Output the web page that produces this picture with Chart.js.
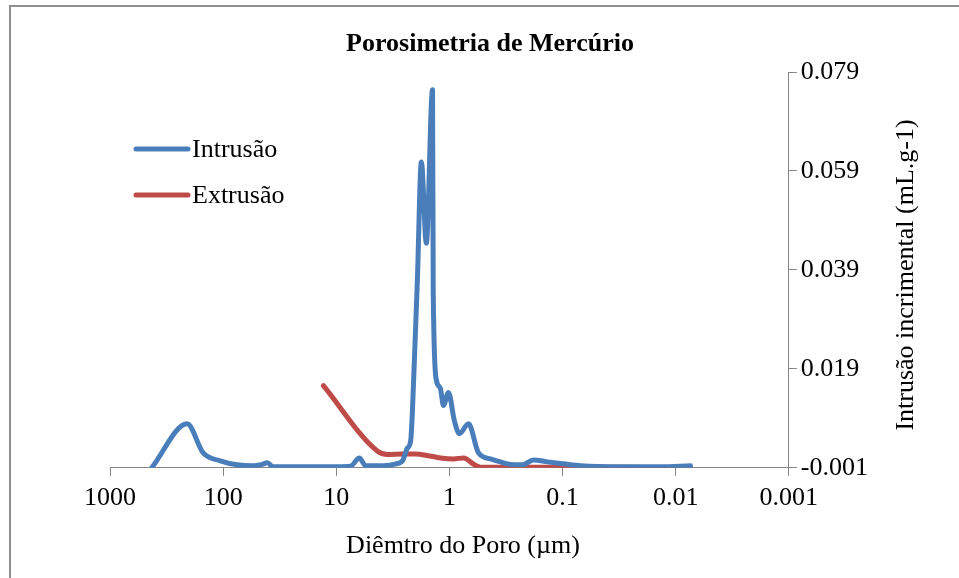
<!DOCTYPE html>
<html>
<head>
<meta charset="utf-8">
<script src="https://cdn.jsdelivr.net/npm/chart.js@4"></script>
<style>
  body { margin: 0; background: #fff; overflow: hidden; }
  #wrap { position: relative; width: 959px; height: 578px; }
  #frame { position: absolute; left: 9px; top: 5px; width: 2000px; height: 2000px; border: 2px solid #8e8e8e; }
  canvas { position: absolute; left: 0; top: 0; }
</style>
</head>
<body>
<div id="wrap">
  <div id="frame"></div>
  <canvas id="chart" width="959" height="578"></canvas>
</div>
<script>
  const titulo = 'Porosimetria de Mercúrio';
  const tituloX = 'Diêmtro do Poro (µm)';
  const tituloY = 'Intrusão incrimental (mL.g-1)';

  const xTicks = [1000, 100, 10, 1, 0.1, 0.01, 0.001];

  // diâmetro (µm) e intrusão
  const poroIntr = [425, 208, 150, 106, 75, 55, 45, 40.8, 36, 20,
    10, 7.5, 6.25, 5.5, 4, 3.13, 2.6, 2.35, 2.2, 2.04,
    1.92, 1.77, 1.6, 1.41, 1.39, 1.30, 1.20, 1.13, 1.02, 0.904,
    0.816, 0.679, 0.553, 0.434, 0.354, 0.307, 0.226, 0.181, 0.136, 0.098,
    0.069, 0.03, 0.0136, 0.0074];
  const intrusao = [-0.0009, 0.0079, 0.0020, 0.0004, -0.0004, -0.0006, -0.0003, 0.0000, -0.0008, -0.0008,
    -0.0008, -0.0007, 0.0010, -0.0006, -0.0006, -0.0003, 0.0004, 0.0030, 0.0045, 0.0207,
    0.0369, 0.0608, 0.0444, 0.0754, 0.0342, 0.0166, 0.0150, 0.0116, 0.0142, 0.0085,
    0.0059, 0.0079, 0.0020, 0.0008, 0.0002, -0.0002, -0.0004, 0.0006, 0.0002, -0.0002,
    -0.0006, -0.0008, -0.0008, -0.0006];

  // diâmetro (µm) e extrusão
  const poroExtr = [13.0, 4.34, 3.54, 2.6, 2.0, 1.5, 1.2, 0.92, 0.75, 0.6, 0.53, 0.3, 0.1, 0.03, 0.0074];
  const extrusao = [0.0156, 0.0024, 0.0017, 0.0018, 0.0018, 0.0014, 0.0010, 0.0008, 0.0010, -0.0004, -0.0009, -0.0009, -0.0009, -0.0009, -0.0011];

  const FONT = '"Liberation Serif", "Times New Roman", serif';

  const textos = {
    id: 'textos',
    afterDraw: (chart) => {
      const { ctx } = chart;
      ctx.save();
      ctx.fillStyle = '#000';
      ctx.textBaseline = 'middle';
      ctx.textAlign = 'center';
      ctx.font = 'bold 26px ' + FONT;
      ctx.fillText(titulo, 490, 44);
      ctx.font = '26px ' + FONT;
      ctx.fillText(tituloX, 463, 546);
      ctx.save();
      ctx.translate(906, 275);
      ctx.rotate(-Math.PI / 2);
      ctx.fillText(tituloY, 0, 0);
      ctx.restore();

      // legenda
      ctx.textAlign = 'left';
      chart.data.datasets.forEach((ds, i) => {
        const y = 149 + i * 46;
        ctx.strokeStyle = ds.borderColor;
        ctx.lineWidth = 5;
        ctx.lineCap = 'round';
        ctx.beginPath();
        ctx.moveTo(136, y);
        ctx.lineTo(188, y);
        ctx.stroke();
        ctx.fillText(ds.label, 192, y + 1);
      });
      ctx.restore();
    }
  };

  new Chart(document.getElementById('chart'), {
    type: 'line',
    data: {
      datasets: [
        {
          label: 'Intrusão',
          data: poroIntr.map((x, i) => ({ x: x, y: intrusao[i] })),
          borderColor: '#4A7EBB',
        },
        {
          label: 'Extrusão',
          data: poroExtr.map((x, i) => ({ x: x, y: extrusao[i] })),
          borderColor: '#BE4B48',
        }
      ]
    },
    options: {
      responsive: false,
      animation: false,
      layout: { padding: { left: 110, top: 72, right: 87, bottom: 57 } },
      elements: {
        point: { radius: 0 },
        line: { borderWidth: 5, cubicInterpolationMode: 'monotone', borderCapStyle: 'round', borderJoinStyle: 'round' }
      },
      plugins: {
        legend: { display: false },
        title: { display: false },
        tooltip: { enabled: false }
      },
      scales: {
        x: {
          type: 'logarithmic',
          reverse: true,
          min: 0.001,
          max: 1000,
          afterBuildTicks: (scale) => {
            scale.ticks = xTicks.map(v => ({ value: v }));
          },
          ticks: {
            autoSkip: false,
            maxRotation: 0,
            padding: 7,
            color: '#000',
            font: { family: FONT, size: 26 },
            callback: (v) => String(v)
          },
          grid: { drawOnChartArea: false, tickLength: 8, color: '#868686' },
          border: { color: '#868686', width: 1 }
        },
        y: {
          position: 'right',
          min: -0.001,
          max: 0.079,
          ticks: {
            stepSize: 0.02,
            padding: 4,
            color: '#000',
            font: { family: FONT, size: 26 },
            callback: (v) => v.toFixed(3)
          },
          grid: { drawOnChartArea: false, tickLength: 8, color: '#868686' },
          border: { color: '#868686', width: 1 }
        }
      }
    },
    plugins: [textos]
  });
</script>
</body>
</html>
